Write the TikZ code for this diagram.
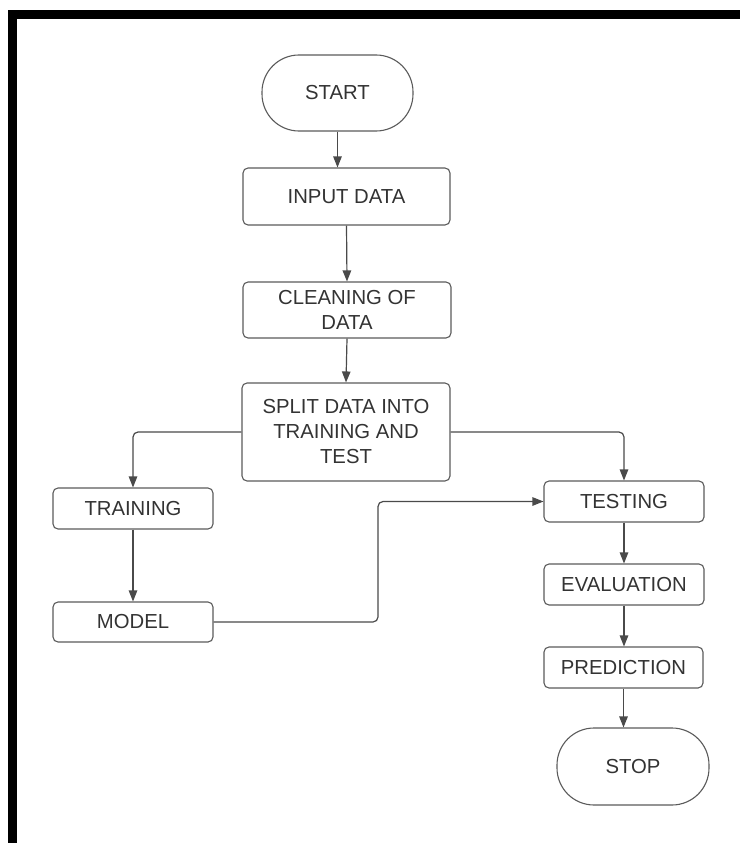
\documentclass[tikz,border=0pt]{standalone}
\usepackage{fontspec}
\setmainfont{Liberation Sans}
\usetikzlibrary{arrows.meta}
\definecolor{txt}{HTML}{333333}
\definecolor{edge}{HTML}{5A5A5A}
\definecolor{conn}{HTML}{4A4A4A}
\tikzset{
  box/.style={draw=edge, line width=1.1pt, rounded corners=5pt, inner sep=0pt,
    align=center, text=txt, font=\fontsize{20.3}{25}\selectfont},
  term/.style={box, rounded corners=37pt},
  conn/.style={draw=conn, line width=1.2pt, rounded corners=5pt,
    -{Triangle[length=11pt,width=8.5pt]}},
}
\begin{document}
\begin{tikzpicture}[x=1pt,y=-1pt]
\useasboundingbox (0,0) rectangle (740,843);
% frame
\fill[black] (8,10) rectangle (740,19);
\fill[black] (8,10) rectangle (17,843);
% nodes
\node[term, minimum width=151pt, minimum height=76pt] (start) at (337.5,93) {START};
\node[box, minimum width=207pt, minimum height=57pt] (input) at (346.5,196.5) {INPUT DATA};
\node[box, minimum width=208pt, minimum height=56pt] (clean) at (347,310) {CLEANING OF\\DATA};
\node[box, minimum width=208pt, minimum height=98pt] (split) at (346,432) {SPLIT DATA INTO\\TRAINING AND\\TEST};
\node[box, minimum width=160pt, minimum height=41pt] (train) at (133,508.5) {TRAINING};
\node[box, minimum width=160pt, minimum height=40pt] (model) at (133,622) {MODEL};
\node[box, minimum width=160pt, minimum height=41pt] (test) at (624,501.5) {TESTING};
\node[box, minimum width=160pt, minimum height=41pt] (eval) at (624,584.5) {EVALUATION};
\node[box, minimum width=159pt, minimum height=41pt] (pred) at (623.5,667.5) {PREDICTION};
\node[term, minimum width=152pt, minimum height=77pt] (stop) at (633,766.5) {STOP};
\coordinate (bend) at (378,622);
% connectors
\draw[conn] (start.south) -- (start.south |- input.north);
\draw[conn] (input.south) -- (clean.north);
\draw[conn] (clean.south) -- (split.north);
\draw[conn] (split.west) -| (train.north);
\draw[conn] (split.east) -| (test.north);
\draw[conn] (train.south) -- (model.north);
\draw[conn] (model.east) -- (bend) |- (test.west);
\draw[conn] (test.south) -- (eval.north);
\draw[conn] (eval.south) -- (eval.south |- pred.north);
\draw[conn] (pred.south) -- (pred.south |- stop.north);
\end{tikzpicture}
\end{document}
